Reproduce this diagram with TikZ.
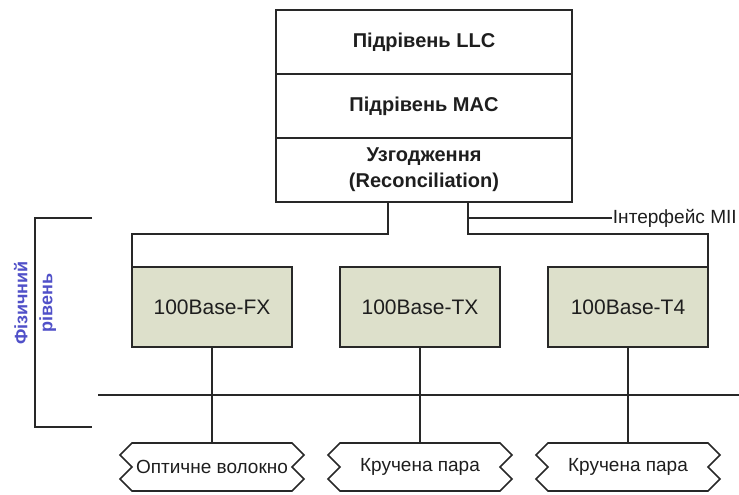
\documentclass[tikz,border=0pt]{standalone}
\usepackage{fontspec}
\setmainfont{Liberation Sans}
\usetikzlibrary{calc}
\definecolor{edge}{RGB}{40,40,40}
\definecolor{phyfill}{RGB}{221,224,203}
\definecolor{phys}{RGB}{80,80,200}
\definecolor{ink}{RGB}{30,30,30}

% outline of a transmission medium: flat top and bottom, zigzag ends
\newcommand\mediumoutline[1]{%
  \draw[wire,line join=miter] (#1.north west) -- (#1.north east)
    -- ++(12,12) -- ++(-12,12) -- ++(12,12) -- ++(-12,12)
    -- (#1.south west)
    -- ++(-12,-12) -- ++(12,-12) -- ++(-12,-12) -- cycle;}

\begin{document}
\begin{tikzpicture}[x=0.75pt,y=-0.75pt,
  wire/.style={draw=edge,line width=1.2pt},
  layer/.style={draw=edge,line width=1.2pt,minimum width=222pt,minimum height=48pt,
    inner sep=0pt,outer sep=0pt,text=ink,align=center,
    font=\bfseries\fontsize{15}{19.5}\selectfont},
  phybox/.style={draw=edge,line width=1.2pt,fill=phyfill,minimum width=120pt,
    minimum height=60pt,inner sep=0pt,outer sep=0pt,text=ink,
    font=\fontsize{15.75}{19}\selectfont},
  medium/.style={minimum width=120pt,minimum height=36pt,inner sep=0pt,outer sep=0pt,
    text=ink,font=\fontsize{14.25}{17}\selectfont},
  note/.style={text=ink,inner sep=0.5pt,font=\fontsize{14.3}{17}\selectfont},
  levellabel/.style={text=phys,align=center,rotate=90,
    font=\bfseries\fontsize{13.5}{18.75}\selectfont}
]
\useasboundingbox (0,0) rectangle (739,494);

% upper sublayers
\node[layer] (llc) at (424,42)  {Підрівень LLC};
\node[layer] (mac) at (424,106) {Підрівень MAC};
\node[layer] (rec) at (424,170) {Узгодження\\(Reconciliation)};

% physical layer devices
\node[phybox] (fx) at (212,307) {100Base-FX};
\node[phybox] (tx) at (420,307) {100Base-TX};
\node[phybox] (t4) at (628,307) {100Base-T4};

% media
\node[medium] (fiber) at (212,467) {Оптичне волокно};
\node[medium] (tp1)   at (420,467) {Кручена пара};
\node[medium] (tp2)   at (628,467) {Кручена пара};
\mediumoutline{fiber}
\mediumoutline{tp1}
\mediumoutline{tp2}

% MII connection
\coordinate (busL) at (388,234);
\coordinate (busR) at (468,234);
\coordinate (miiJ) at (468,218);
\draw[wire] (rec.south west -| busL) -- (busL) -| (fx.north west);
\draw[wire] (rec.south west -| busR) -- (busR) -| (t4.north east);
\node[note,anchor=west] (mii) at (612,218) {Інтерфейс MII};
\draw[wire] (miiJ) -- (mii.west);

% medium-dependent interface line
\coordinate (mdiA) at (98,395);
\coordinate (mdiB) at (739,395);
\draw[wire] (mdiA) -- (mdiB);

% device to medium
\draw[wire] (fx.south) -- (fiber.north);
\draw[wire] (tx.south) -- (tp1.north);
\draw[wire] (t4.south) -- (tp2.north);

% physical layer bracket
\coordinate (brTop) at (92,218);
\coordinate (brBot) at (92,427);
\draw[wire] (brTop) -- ++(-57,0) |- (brBot);
\node[levellabel] (phy) at (35,303) {Фізичний\\рівень};
\end{tikzpicture}
\end{document}
